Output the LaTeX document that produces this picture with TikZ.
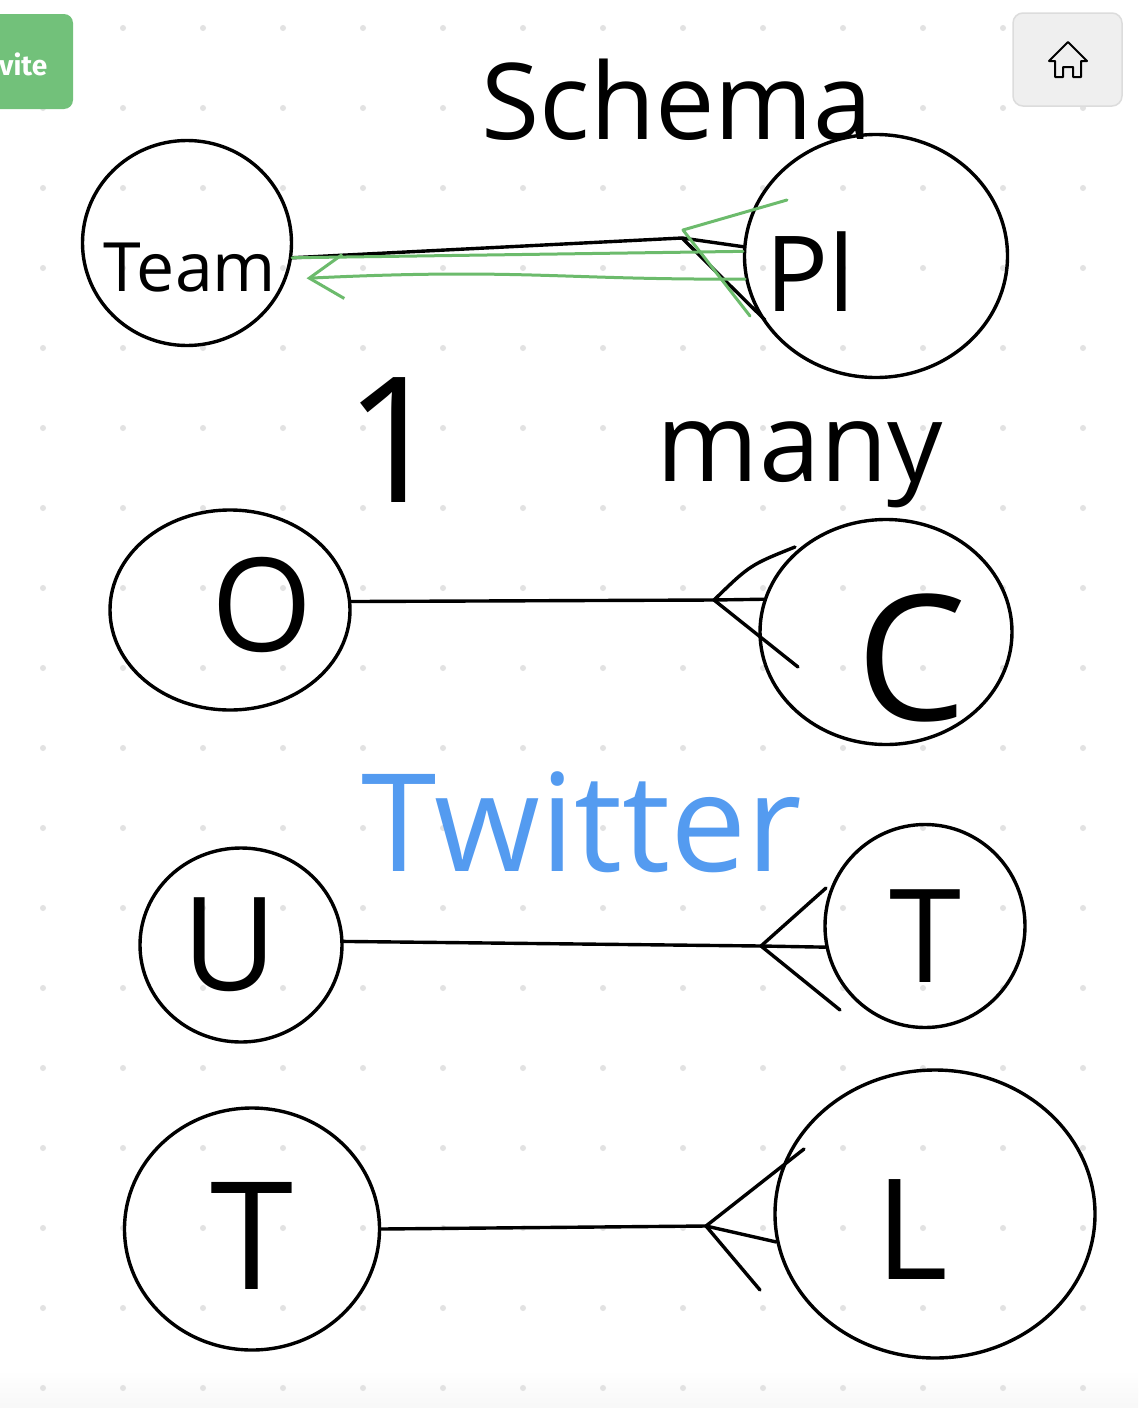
\documentclass[tikz,border=0pt]{standalone}
\usepackage{fontspec}
\usetikzlibrary{shapes.geometric,arrows.meta}
\newfontfamily\hand{Open Sans}
\newfontfamily\uifont{Fira Sans}
\definecolor{dotgray}{HTML}{E2E2E2}
\definecolor{penblue}{HTML}{549BF0}
\definecolor{pengreen}{HTML}{6CBB6C}
\definecolor{btngreen}{HTML}{72C17A}
\definecolor{btngray}{HTML}{EFEFEF}
\definecolor{btnedge}{HTML}{DCDCDC}

\tikzset{
  entity/.style = {draw, ellipse, line width=3.4pt, inner sep=0pt},
  ink/.style = {line width=3.4pt, line cap=round, line join=round},
  greenink/.style = {ink, draw=pengreen, line width=3pt},
  handtext/.style = {inner sep=0pt, font=\hand\fontsize{#1}{#1}\selectfont},
}

\begin{document}
\begin{tikzpicture}[x=1pt, y=-1pt]
\useasboundingbox (0,0) rectangle (1138,1408);
\fill[white] (0,0) rectangle (1138,1408);
\shade[top color=white, bottom color=black!3] (0,1370) rectangle (1138,1408);

% dot grid
\foreach \i in {0,...,13}
  \foreach \j in {0,...,17}
    \fill[dotgray] (43+80*\i, 28+80*\j) circle (3pt);

% buttons
\fill[btngreen, rounded corners=9pt] (-20,14) rectangle (73,109);
\node[anchor=west, inner sep=0pt, text=white, font=\uifont\bfseries\fontsize{28}{28}\selectfont] (invite) at (-1,64) {vite};
\filldraw[fill=btngray, draw=btnedge, line width=1.5pt, rounded corners=10pt] (1013,13) rectangle (1122,106);
\draw[line width=2pt, line join=round] (1049,61) -- (1068,42) -- (1087,61) -- (1081,61) -- (1081,77) -- (1073,77)
  -- (1073,67) -- (1063,67) -- (1063,77) -- (1055,77) -- (1055,61) -- cycle;

\node[handtext=106] (title) at (677,100) {Schema};

% entities
\node[entity, minimum width=209pt, minimum height=205pt] (team) at (187,243) {};
\node[entity, minimum width=263pt, minimum height=243pt] (player) at (876,256) {};
\node[entity, minimum width=240pt, minimum height=200pt] (order) at (230,610) {};
\node[entity, minimum width=252pt, minimum height=225pt] (cust) at (886,632) {};
\node[entity, minimum width=202pt, minimum height=194pt] (user) at (241,945) {};
\node[entity, minimum width=200pt, minimum height=203pt] (tweet) at (925,926) {};
\node[entity, minimum width=255pt, minimum height=242pt] (post) at (252,1229) {};
\node[entity, minimum width=320pt, minimum height=288pt] (like) at (935,1214) {};

\node[handtext=68] (teamtxt) at (190,268) {Team};
\node[handtext=105] (playertxt) at (810,272) {Pl};
\node[handtext=130] (otxt) at (262,605) {O};
\node[handtext=175] (ctxt) at (912,658) {C};
\node[handtext=130] (utxt) at (230,945) {U};
\node[handtext=130] (ttxt) at (925,936) {T};
\node[handtext=150] (posttxt) at (252,1236) {T};
\node[handtext=140] (ltxt) at (912,1230) {L};

\node[handtext=175] (one) at (395,440) {1};
\node[handtext=110] (many) at (800,465) {many};
\node[handtext=136, text=penblue] (twitter) at (582,822) {Twitter};

% team - player
\coordinate (tpfork) at (682,238);
\coordinate (tplow) at (765,320);
\coordinate (tpgfork) at (683,230);
\coordinate (tpgup) at (787,200);
\coordinate (tpglow) at (750,316);
\draw[ink] (team.-8) -- (tpfork) -- (player.176);
\draw[ink] (tpfork) -- (tplow);
\draw[greenink] (team.-8) -- (player.178);
\draw[greenink] (tpgup) -- (tpgfork) -- (tpglow);
\draw[greenink, shorten >=20pt, -{Straight Barb[length=34pt, width=44pt]}] (player.190)
  .. controls (560,280) and (520,268) .. (team.-20);

% order - customer
\coordinate (ocfork) at (714,600);
\coordinate (ocup) at (795,547);
\coordinate (oclow) at (798,667);
\draw[ink] (order.4) -- (ocfork) -- (cust.165);
\draw[ink] (ocup) .. controls (750,565) .. (ocfork) -- (oclow);

% user - tweet
\coordinate (utfork) at (761,946);
\coordinate (utup) at (826,888);
\coordinate (utlow) at (840,1010);
\draw[ink] (user.2) -- (utfork) -- (tweet.192);
\draw[ink] (utup) -- (utfork) -- (utlow);

% tweet - like
\coordinate (plfork) at (706,1226);
\coordinate (plup) at (804,1149);
\coordinate (pllow) at (760,1290);
\draw[ink] (post.0) -- (plfork) -- (like.190);
\draw[ink] (plup) -- (plfork) -- (pllow);
\end{tikzpicture}
\end{document}
